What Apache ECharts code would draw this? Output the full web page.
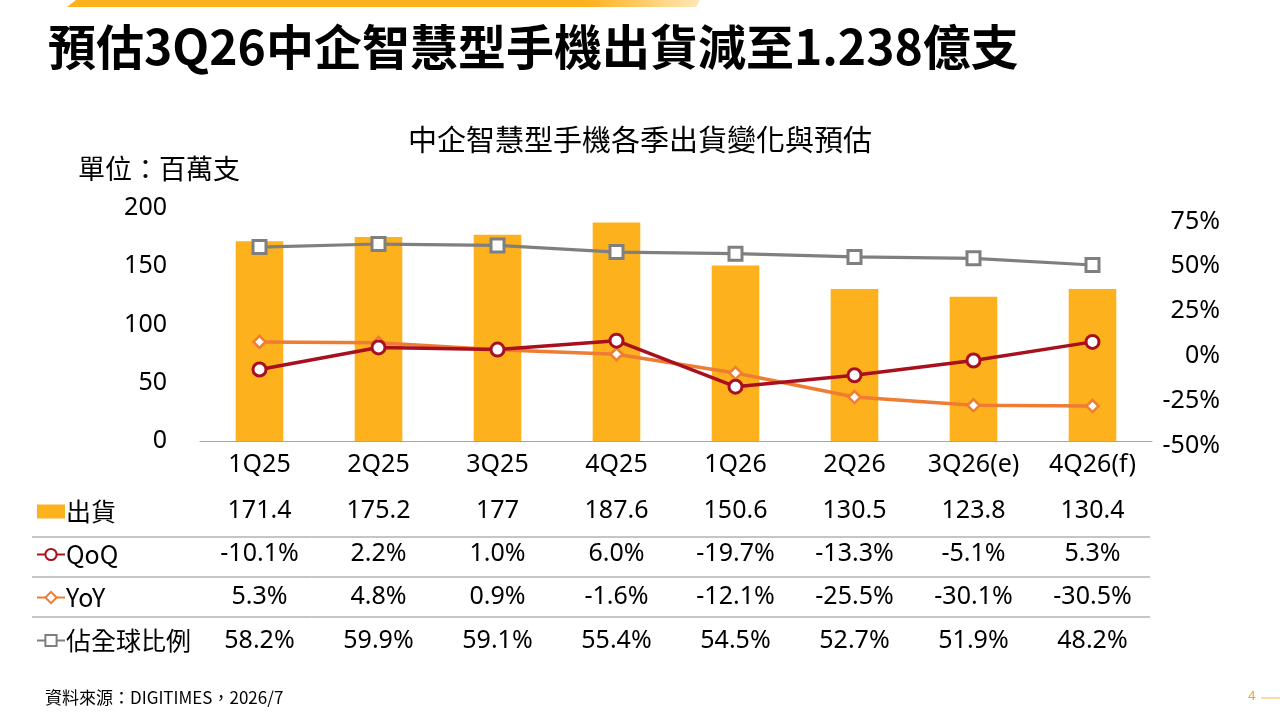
<!DOCTYPE html>
<html>
<head>
<meta charset="utf-8">
<script src="https://cdn.jsdelivr.net/npm/echarts@6/dist/echarts.min.js"></script>
<style>
html,body{margin:0;padding:0;background:#fff;}
#chart{width:1280px;height:720px;}
</style>
</head>
<body>
<div id="chart"></div>
<script>
const categories = ['1Q25','2Q25','3Q25','4Q25','1Q26','2Q26','3Q26(e)','4Q26(f)'];
const shipments = [171.4, 175.2, 177, 187.6, 150.6, 130.5, 123.8, 130.4];
const qoq = [-10.1, 2.2, 1.0, 6.0, -19.7, -13.3, -5.1, 5.3];
const yoy = [5.3, 4.8, 0.9, -1.6, -12.1, -25.5, -30.1, -30.5];
const share = [58.2, 59.9, 59.1, 55.4, 54.5, 52.7, 51.9, 48.2];
const seriesNames = ['出貨', 'QoQ', 'YoY', '佔全球比例'];

const FONT = '"Noto Sans", "Noto Sans CJK TC", sans-serif';
const CJK = '"Noto Sans CJK TC", "Noto Sans", sans-serif';
const C_BAR = '#FDB11C', C_QOQ = '#A8101E', C_YOY = '#EE7D33', C_SHARE = '#7F7F7F';

const pct = v => v.toFixed(1) + '%';
const rowAxis = (data, offset) => ({
  type: 'category', data: data, gridIndex: 0, position: 'bottom', offset: offset,
  axisLine: {show: false}, axisTick: {show: false},
  axisLabel: {color: '#000', fontSize: 25, fontFamily: FONT, margin: 11, interval: 0}
});

const chart = echarts.init(document.getElementById('chart'), null, {renderer: 'canvas'});
chart.setOption({
  backgroundColor: '#fff',
  animation: false,
  textStyle: {fontFamily: FONT},
  title: [
    {text: '預估3Q26中企智慧型手機出貨減至1.238億支', left: 43, top: 18,
     textStyle: {fontSize: 48, fontWeight: 'bold', color: '#000', fontFamily: CJK}},
    {text: '中企智慧型手機各季出貨變化與預估', left: 'center', top: 120,
     textStyle: {fontSize: 29, fontWeight: 'normal', color: '#000', fontFamily: CJK}},
    {text: '單位：百萬支', left: 73, top: 150,
     textStyle: {fontSize: 27, fontWeight: 'normal', color: '#000', fontFamily: CJK}},
    {text: '資料來源：DIGITIMES，2026/7', left: 40, top: 684,
     textStyle: {fontSize: 17, fontWeight: 'normal', color: '#000', fontFamily: CJK}}
  ],
  legend: {
    orient: 'vertical', left: 31, top: 494, itemGap: 18,
    itemWidth: 28, itemHeight: 14,
    textStyle: {fontSize: 25, color: '#000', fontFamily: CJK, padding: [0,0,0,-4]},
    data: [{name: seriesNames[0], icon: 'rect'}, seriesNames[1], seriesNames[2], seriesNames[3]],
    selectedMode: false
  },
  grid: {left: 200, right: 128, top: 208, bottom: 279, containLabel: false},
  xAxis: [
    {type: 'category', data: categories, gridIndex: 0,
     axisLine: {lineStyle: {color: '#A6A6A6', width: 1}}, axisTick: {show: false},
     axisLabel: {color: '#000', fontSize: 25, fontFamily: FONT, margin: 11, interval: 0}},
    rowAxis(shipments.map(v => String(v)), 46),
    rowAxis(qoq.map(pct), 89),
    rowAxis(yoy.map(pct), 132),
    rowAxis(share.map(pct), 176)
  ],
  yAxis: [
    {type: 'value', min: 0, max: 200, interval: 50,
     axisLine: {show: false}, axisTick: {show: false}, splitLine: {show: false},
     axisLabel: {color: '#000', fontSize: 25, fontFamily: FONT, margin: 33}},
    {type: 'value', min: -50, max: 80, interval: 25, position: 'right',
     axisLine: {show: false}, axisTick: {show: false}, splitLine: {show: false},
     axisLabel: {color: '#000', fontSize: 25, fontFamily: FONT, margin: 68, align: 'right',
       formatter: v => (v % 25 === 0 ? '{p|' + v + '%}' : ''),
       rich: {p: {fontSize: 25, fontFamily: FONT, color: '#000', padding: [9, 0, 0, 0]}}}}
  ],
  series: [
    {name: seriesNames[0], type: 'bar', data: shipments, xAxisIndex: 0, yAxisIndex: 0,
     barWidth: '40%', itemStyle: {color: C_BAR}},
    {name: seriesNames[1], type: 'line', data: qoq, xAxisIndex: 0, yAxisIndex: 1, z: 4,
     symbol: 'circle', symbolSize: 13,
     lineStyle: {color: C_QOQ, width: 3.5},
     itemStyle: {color: '#fff', borderColor: C_QOQ, borderWidth: 3}},
    {name: seriesNames[2], type: 'line', data: yoy, xAxisIndex: 0, yAxisIndex: 1, z: 3,
     symbol: 'diamond', symbolSize: 12,
     lineStyle: {color: C_YOY, width: 3.5},
     itemStyle: {color: '#fff', borderColor: C_YOY, borderWidth: 2.5}},
    {name: seriesNames[3], type: 'line', data: share, xAxisIndex: 0, yAxisIndex: 1, z: 5,
     symbol: 'rect', symbolSize: 13,
     lineStyle: {color: C_SHARE, width: 3.2},
     itemStyle: {color: '#fff', borderColor: C_SHARE, borderWidth: 3}}
  ],
  graphic: [
    {type: 'polygon', silent: true,
     shape: {points: [[76, 0], [700, 0], [696, 7], [67, 7]]},
     style: {fill: new echarts.graphic.LinearGradient(0, 0, 1, 0, [
       {offset: 0, color: '#FDB11C'}, {offset: 0.82, color: '#FDB11C'}, {offset: 1, color: '#FFE8B8'}])}},
    {type: 'line', silent: true, shape: {x1: 32, y1: 537, x2: 1150, y2: 537}, style: {stroke: '#8C8C8C', lineWidth: 1}},
    {type: 'line', silent: true, shape: {x1: 32, y1: 577, x2: 1150, y2: 577}, style: {stroke: '#8C8C8C', lineWidth: 1}},
    {type: 'line', silent: true, shape: {x1: 32, y1: 617, x2: 1150, y2: 617}, style: {stroke: '#8C8C8C', lineWidth: 1}},
    {type: 'text', silent: true, left: 1248, top: 690,
     style: {text: '4', fill: '#F0A030', fontSize: 13, fontFamily: FONT}},
    {type: 'line', silent: true, shape: {x1: 1261, y1: 698, x2: 1280, y2: 698}, style: {stroke: '#F5B85A', lineWidth: 1}}
  ]
});
</script>
</body>
</html>
